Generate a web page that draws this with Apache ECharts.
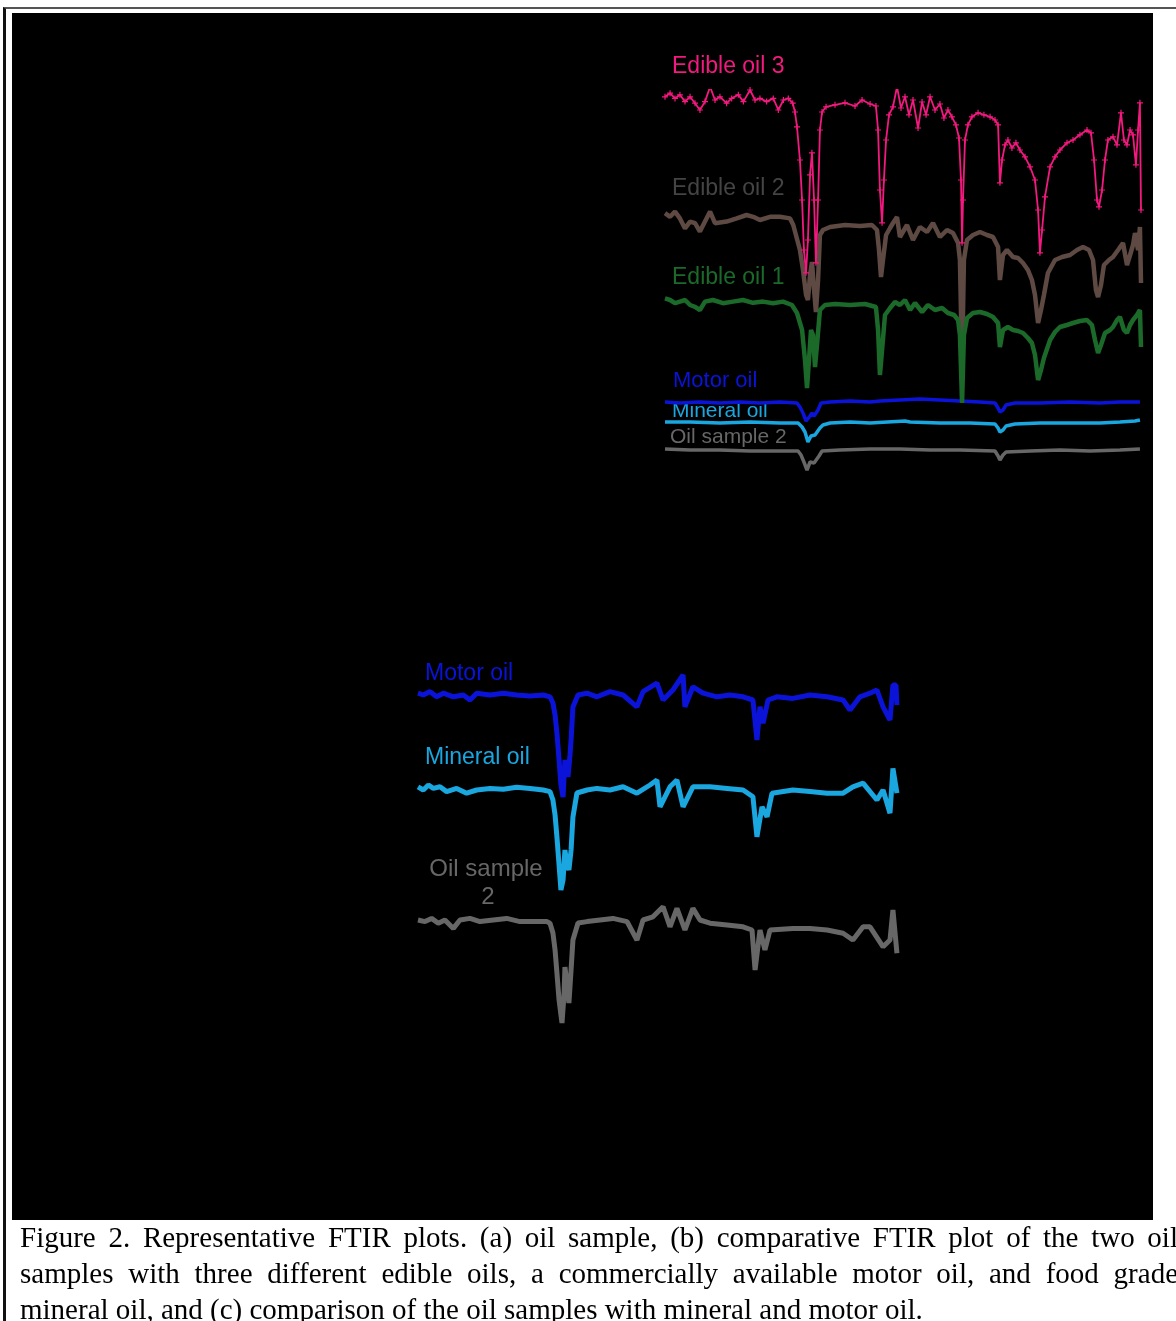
<!DOCTYPE html>
<html>
<head>
<meta charset="utf-8">
<script src="https://cdn.jsdelivr.net/npm/echarts/dist/echarts.min.js"></script>
<style>
  html, body { margin: 0; padding: 0; background: #fff; width: 1176px; height: 1321px; overflow: hidden; }
  .frame { position: absolute; left: 3px; top: 7px; width: 1190px; height: 1330px;
           border-top: 2px solid #555; border-left: 3px solid #111; box-sizing: border-box; }
  #chart { position: absolute; left: 12px; top: 13px; width: 1141px; height: 1207px; }
  .caption { position: absolute; left: 20px; top: 1219px; width: 1158px;
             font-family: "Liberation Serif", "Times New Roman", serif; font-size: 29px;
             line-height: 36px; color: #000; white-space: nowrap; }
  .caption span { display: block; }
  .caption .j { text-align: justify; text-align-last: justify; }
</style>
</head>
<body>
<div class="frame"></div>
<div id="chart"></div>
<div class="caption">
  <span class="j">Figure 2. Representative FTIR plots. (a) oil sample, (b) comparative FTIR plot of the two oil</span>
  <span class="j">samples with three different edible oils, a commercially available motor oil, and food grade</span>
  <span>mineral oil, and (c) comparison of the oil samples with mineral and motor oil.</span>
</div>

<script>
// spectra: [wavenumber (cm-1), stacked transmittance (a.u.)]
// panel (b)
const edibleOil3 = [
  [4000,98.3],[3962,99.2],[3925,97.9],[3888,98.8],[3850,97.1],[3812,98.3],[3775,96.7],[3738,95],[3700,97.1],[3662,100.8],
  [3625,97.5],[3588,98.3],[3538,96.7],[3500,97.9],[3450,98.8],[3412,97.1],[3362,100],[3325,97.5],[3288,97.9],[3238,97.1],
  [3188,97.9],[3150,95],[3112,97.5],[3075,97.9],[3042,96.7],
  [3025,94.5],[3010,90.8],[2988,82.5],[2972,72.5],[2958,60],[2942,54.3],[2928,62.5],[2912,78.8],[2898,84.3],[2882,72.5],
  [2868,56.8],[2852,72.5],[2838,90],[2822,94.5],[2792,95.8],
  [2725,96.3],[2650,96.8],[2575,96],[2522,97.5],[2462,96.5],[2418,96],
  [2402,90],[2388,75],[2372,66.8],[2358,77.5],[2342,87.5],[2320,93.8],[2290,95.8],
  [2260,100.8],[2230,95.5],[2200,98.3],[2170,93.8],[2140,97.5],[2102,90.5],[2072,97],[2042,93.8],[2012,98.3],[1975,95],
  [1938,96.5],[1908,93],[1878,95],[1848,93.3],[1818,91.3],[1795,88],
  [1780,77.5],[1772,61.8],[1765,72.5],[1750,87.5],[1728,91.3],[1698,93.3],[1652,94.3],[1608,93.8],[1562,93.3],[1525,92.5],
  [1502,91.3],[1488,76.8],[1472,82.5],[1450,86.3],[1428,87.5],[1398,85.5],[1368,86.8],[1338,85],[1300,83.3],[1262,80.8],
  [1225,77.5],[1202,70],[1188,59.3],[1172,65],[1150,73.3],[1112,80.8],[1075,83.3],[1038,85],[985,86.8],[940,87.5],
  [888,88.8],[835,90],[805,89.3],[782,82.5],[760,72.5],[745,70.8],[722,75],[700,82.5],[678,87.5],[640,88.3],
  [610,86.3],[580,94.3],[558,87.5],[535,86.3],[512,90],[490,88.8],[468,81.3],[452,90],[438,96.8],[430,70]
];
const edibleOil2 = [
  [4000,69.2],[3962,68.3],[3925,69.6],[3888,67.9],[3850,65.4],[3812,67.1],[3775,66.7],[3738,64.6],[3662,69.6],[3625,66.7],
  [3538,67.1],[3462,67.9],[3388,68.75],[3338,68.3],[3288,67.5],[3212,68.3],[3138,68.3],[3062,67.9],[3038,66.25],
  [3018,63.75],[2988,60],[2965,55],[2942,48.75],[2928,47.5],[2912,53.75],[2898,57],[2882,50],[2868,44.5],[2852,52.5],
  [2838,63.75],[2815,65],
  [2762,65.75],[2650,66.25],[2538,66],[2448,66.25],[2410,65],
  [2395,60],[2380,53.25],[2365,57.5],[2342,63.75],[2312,65.5],[2290,66.75],[2260,68.25],[2238,63.25],[2185,66.25],
  [2140,62.5],[2088,65.75],[2035,64.5],[1990,66.75],[1938,63.25],[1885,65],[1840,64.25],[1802,61.75],
  [1788,57.5],[1772,30.75],[1758,57.5],[1735,62.5],[1690,63.75],[1638,64.5],[1585,63.75],[1540,63.25],[1502,60.75],
  [1488,52.5],[1465,58.75],[1435,60],[1390,58.25],[1352,58],[1315,56.75],[1278,55],[1248,52.5],[1225,48.75],[1202,41.75],
  [1180,45],[1158,48.75],[1128,54.25],[1075,57.5],[1022,58.25],[962,58.75],[910,60],[865,60.75],[820,60],[790,57.5],
  [768,50],[752,48.25],[730,51.25],[708,56.25],[670,57.5],[640,58.25],[602,60],[565,61.75],[535,56.25],[512,58.75],
  [490,61.25],[475,64.25],[452,60],[438,65.75],[430,51.75]
];
const edibleOil1 = [
  [4000,47.9],[3962,47.5],[3925,46.7],[3888,47.1],[3850,47.5],[3812,46.25],[3775,45.8],[3738,45],[3700,47.1],[3640,47.5],
  [3565,46.7],[3490,47.1],[3415,47.5],[3340,46.8],[3265,47.1],[3190,46.7],[3115,47.1],[3048,46.25],
  [3010,44.25],[2972,40],[2950,32.5],[2935,25.5],[2920,32.5],[2905,40],[2890,38.75],[2875,30.75],[2860,36.25],[2838,45],
  [2800,46.25],[2725,46.5],[2612,46.25],[2500,46.5],[2418,45.75],
  [2402,40],[2388,28.75],[2372,35],[2350,43.75],[2312,45.5],[2275,47],
  [2238,46.25],[2200,47.5],[2162,45],[2125,46.75],[2072,44.5],[2028,46.25],[1975,45],[1922,45.5],[1878,44.25],[1832,43.75],
  [1802,42.5],[1788,38.75],[1772,21.75],[1758,38.75],[1735,43],[1690,44.25],[1638,44.5],[1585,44],[1540,43.25],[1502,41.75],
  [1488,35.75],[1465,40],[1428,40.75],[1390,40],[1352,39.75],[1315,39.25],[1278,38],[1248,36.75],[1225,33.75],[1202,27.5],
  [1180,30],[1158,33],[1112,37.5],[1075,39.5],[1038,40.75],[985,41.25],[940,41.75],[888,42.25],[835,42.5],[798,41.25],
  [775,37.5],[752,34.25],[730,36.25],[700,39.25],[662,40],[640,40.75],[610,42.5],[588,43.25],[558,40],[535,39.25],
  [512,41.25],[490,42.5],[460,43.75],[438,45],[430,35.75]
];
const motorOilB = [
  [4000,22],[3888,21.75],[3738,22],[3588,21.75],[3438,22],[3288,21.75],[3138,22],[3010,21.75],[2988,20.75],[2965,19.25],
  [2942,17.25],[2928,16.75],[2912,18.5],[2898,19.25],[2882,18.5],[2868,18],[2852,20],[2830,21.75],[2762,22],[2612,22.25],
  [2462,22],[2388,22.25],[2238,22.5],[2088,22.75],[1938,22.5],[1788,22.25],[1638,22],[1525,21.75],[1502,20.5],[1488,19.5],
  [1465,20],[1442,21.25],[1375,21.75],[1188,21.75],[962,22],[738,21.75],[588,22],[438,22]
];
const mineralOilB = [
  [4000,17],[3812,17],[3588,16.75],[3362,17],[3138,16.75],[3002,16.75],[2972,15.75],[2950,14.5],[2928,12],[2905,13.5],
  [2890,13.25],[2875,13.75],[2860,14.25],[2838,15.5],[2815,16.25],[2762,16.75],[2612,17],[2462,16.75],[2200,17.25],[2162,17],
  [1938,16.75],[1712,16.75],[1525,16.5],[1502,15.5],[1488,14.5],[1465,15],[1442,16],[1375,16.5],[1188,16.75],[962,16.75],
  [738,16.75],[588,17],[475,17.25],[438,17.5]
];
const oilSample2B = [
  [4000,10.25],[3812,10],[3588,10],[3362,9.75],[3138,9.75],[3002,9.75],[2980,8.75],[2958,7],[2935,5],[2912,7],
  [2898,7.5],[2882,6.75],[2868,6.25],[2845,8.5],[2822,9.75],[2688,10],[2462,10.25],[2238,10.25],[2012,10],[1788,10],
  [1525,9.75],[1502,8.5],[1488,7.5],[1465,8.75],[1442,9.5],[1262,9.75],[1038,10],[812,9.75],[588,10],[438,10.25]
];
// panel (c)
const motorOilC = [
  [4000,91.7],[3960,91.25],[3910,92.1],[3860,90.8],[3810,91.7],[3735,90.8],[3660,91.25],[3610,90],[3560,91.7],[3460,91.25],
  [3360,91.7],[3260,91.25],[3160,91],[3060,91.25],[3010,90.8],[2988,89.25],[2972,86.25],[2958,81.75],[2942,75],[2928,68.75],
  [2912,65.75],[2898,75],[2882,72.5],[2875,70.75],[2860,76.25],[2852,80],[2838,88.25],[2800,91.25],[2732,91.7],[2658,90.8],
  [2560,92.1],[2462,91.25],[2358,88.3],[2312,92.1],[2208,94.2],[2162,90],[2088,92.5],[2012,96.25],[1998,88.3],[1938,93.3],
  [1862,91.7],[1758,90.8],[1660,91.25],[1562,90.8],[1488,90],[1458,80],[1435,88.3],[1412,84.2],[1375,90],[1308,90.8],
  [1188,90.4],[1060,91.25],[932,90.8],[812,90],[760,87.5],[685,90.8],[610,91.7],[558,92.5],[512,88.3],[460,85],
  [438,93.75],[415,93.75],[408,88.75]
];
const mineralOilC = [
  [4000,68.3],[3960,67.5],[3922,68.75],[3885,67.9],[3835,68.3],[3785,67.1],[3710,67.9],[3635,66.7],[3560,67.5],[3460,67.9],
  [3360,67.7],[3260,68.2],[3160,67.9],[3060,67.5],[3010,67.1],[2988,65],[2972,61.25],[2958,55.75],[2942,48.75],[2928,42.5],
  [2912,45],[2898,52.5],[2882,48.75],[2868,47.5],[2852,52.5],[2838,60.75],[2808,66.75],[2732,67.5],[2658,67.9],[2560,67.5],
  [2462,68.3],[2358,66.7],[2260,68.75],[2208,70],[2185,63.3],[2110,68.3],[2058,70],[2012,63.3],[1938,68.3],[1810,68.3],
  [1682,67.9],[1562,67.5],[1488,65.8],[1458,55.8],[1420,63.3],[1382,60.8],[1345,66.7],[1188,67.5],[1060,67.1],[932,66.7],
  [812,66.7],[738,68.3],[662,69.2],[558,65],[512,67.5],[460,61.7],[438,72.9],[408,66.7]
];
const oilSample2C = [
  [4000,35],[3948,34.6],[3898,35.4],[3848,34.2],[3798,35],[3735,32.9],[3685,35],[3610,35.4],[3535,34.6],[3435,35],
  [3335,35.4],[3235,34.6],[3135,34.6],[3035,34.6],[3010,34.2],[2988,31.75],[2972,27.5],[2958,21.75],[2942,15],[2928,11.25],
  [2920,9.25],[2905,16.25],[2898,23.25],[2882,18.75],[2868,14.25],[2852,22.5],[2838,30],[2800,34.25],[2732,34.6],[2635,35],
  [2538,35.4],[2432,34.6],[2358,30],[2312,35],[2238,35.8],[2162,38.3],[2110,33.3],[2058,37.9],[1998,32.5],[1938,37.9],
  [1885,35],[1810,34.2],[1682,33.75],[1562,33.3],[1495,32.5],[1472,22.5],[1435,32.5],[1398,27.5],[1360,32.5],[1188,32.9],
  [1060,32.9],[932,32.5],[812,31.7],[738,30],[662,33.3],[610,33.3],[512,28.3],[460,30],[438,37.5],[408,26.7]
];

const colors = {
  edible3: '#f2197f', edible2: '#5e4a43', edible1: '#1b6a2a',
  motor: '#0b13d9', mineral: '#1aa6df', sample: '#676767'
};

const chart = echarts.init(document.getElementById('chart'));

function line(name, data, color, width, idx, extra) {
  return Object.assign({
    name: name,
    type: 'line',
    xAxisIndex: idx,
    yAxisIndex: idx,
    data: data,
    showSymbol: false,
    lineStyle: { color: color, width: width, join: 'bevel' },
    itemStyle: { color: color },
    silent: true
  }, extra || {});
}

function label(text, x, y, color, size, align) {
  return {
    type: 'text', x: x, y: y, silent: true,
    style: {
      text: text, fill: color, align: align || 'left', verticalAlign: 'middle',
      font: size + 'px "Liberation Sans", Arial, sans-serif'
    }
  };
}

const option = {
  backgroundColor: '#000',
  animation: false,
  grid: [
    { left: 653, top: 77, width: 480, height: 400 },
    { left: 406, top: 647, width: 480, height: 400 }
  ],
  xAxis: [0, 1].map(i => ({ type: 'value', gridIndex: i, min: 400, max: 4000, inverse: true, show: false })),
  yAxis: [0, 1].map(i => ({ type: 'value', gridIndex: i, min: 0, max: 100, show: false })),
  series: [
    line('Oil sample 2', oilSample2B, colors.sample, 3.5, 0),
    line('Mineral oil', mineralOilB, colors.mineral, 3.5, 0),
    line('Motor oil', motorOilB, colors.motor, 3.5, 0),
    line('Edible oil 2', edibleOil2, colors.edible2, 4.5, 0),
    line('Edible oil 1', edibleOil1, colors.edible1, 4.5, 0),
    line('Edible oil 3', edibleOil3, colors.edible3, 1.8, 0, {
      showSymbol: true,
      symbol: 'path://M4 0H6V4H10V6H6V10H4V6H0V4H4Z',
      symbolSize: 6
    }),
    line('Motor oil', motorOilC, colors.motor, 5, 1),
    line('Mineral oil', mineralOilC, colors.mineral, 5, 1),
    line('Oil sample 2', oilSample2C, colors.sample, 5, 1)
  ],
  graphic: [
    label('Edible oil 3', 660, 54, colors.edible3, 23),
    label('Edible oil 2', 660, 176, '#444444', 23),
    label('Edible oil 1', 660, 265, colors.edible1, 23),
    label('Motor oil', 661, 368, colors.motor, 22),
    label('Mineral oil', 660, 398, colors.mineral, 21),
    label('Oil sample 2', 658, 424, colors.sample, 21),
    label('Motor oil', 413, 661, colors.motor, 23),
    label('Mineral oil', 413, 745, colors.mineral, 23),
    label('Oil sample', 474, 856, colors.sample, 24, 'center'),
    label('2', 476, 884, colors.sample, 24, 'center')
  ]
};

chart.setOption(option);
</script>
</body>
</html>
